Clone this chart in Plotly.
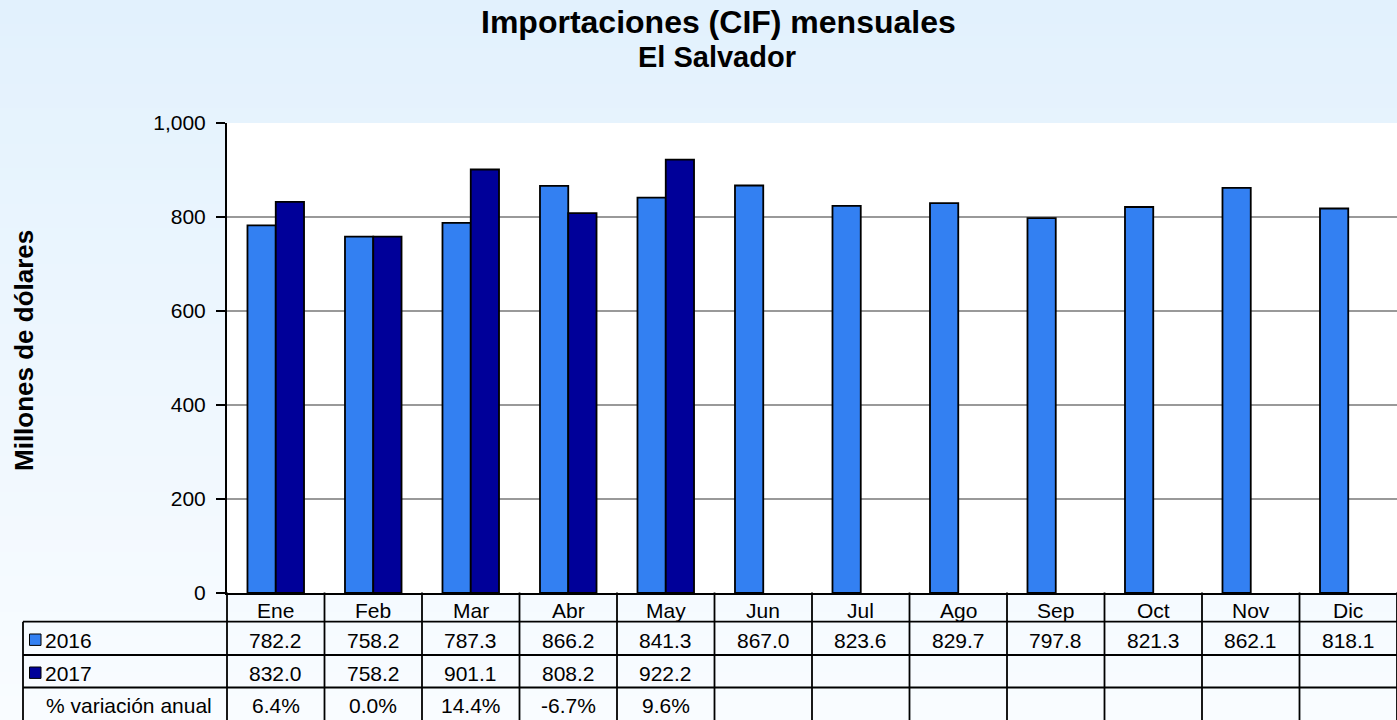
import plotly.graph_objects as go

# Data
months = ['Ene', 'Feb', 'Mar', 'Abr', 'May', 'Jun', 'Jul', 'Ago', 'Sep', 'Oct', 'Nov', 'Dic']
imp_2016 = [782.2, 758.2, 787.3, 866.2, 841.3, 867.0, 823.6, 829.7, 797.8, 821.3, 862.1, 818.1]
imp_2017 = [832.0, 758.2, 901.1, 808.2, 922.2]
var_anual = [6.4, 0.0, 14.4, -6.7, 9.6]
series_names = ['2016', '2017']
y_ticks = [0, 200, 400, 600, 800, 1000]

col_2016 = '#3380F2'
col_2017 = '#000099'
FONT = 'Liberation Sans, Arial, sans-serif'

# Page geometry (pixels)
W, H = 1397, 720
L, R, T, B = 227, 1397, 123, 593


def px_x(p):
    return (p - L) / (R - L)


def px_y(p):
    return (B - p) / (B - T)


fig = go.Figure()
fig.add_trace(go.Bar(x=months, y=imp_2016, name=series_names[0], marker_color=col_2016,
                     marker_line=dict(color='black', width=1.8)))
fig.add_trace(go.Bar(x=months[:len(imp_2017)], y=imp_2017, name=series_names[1], marker_color=col_2017,
                     marker_line=dict(color='black', width=1.8)))

shapes = []
annotations = []

# light blue gradient background
n_bands = 60
top_c, bot_c = (226, 241, 253), (249, 252, 255)
for i in range(n_bands):
    f = i / (n_bands - 1)
    c = tuple(round(top_c[k] + (bot_c[k] - top_c[k]) * f) for k in range(3))
    y0 = i * H / n_bands
    y1 = (i + 1) * H / n_bands + 1
    shapes.append(dict(type='rect', xref='paper', yref='paper', layer='below',
                       x0=px_x(0), x1=px_x(W + 2), y0=px_y(y1), y1=px_y(y0),
                       line=dict(width=0), fillcolor='rgb(%d,%d,%d)' % c))
# white plot area on top of the gradient
shapes.append(dict(type='rect', xref='paper', yref='paper', layer='below',
                   x0=0, x1=1, y0=0, y1=1, line=dict(width=0), fillcolor='white'))

# data table under the chart
rows_px = [592.5, 621.7, 655.0, 687.5, 740]
tbl_left = 23
line_k = dict(color='black', width=1.8)
n = len(months)
for i in range(n + 1):
    shapes.append(dict(type='line', xref='paper', yref='paper', x0=i / n, x1=i / n,
                       y0=px_y(rows_px[0]), y1=px_y(rows_px[-1]), line=line_k))
shapes.append(dict(type='line', xref='paper', yref='paper', x0=px_x(tbl_left), x1=px_x(tbl_left),
                   y0=px_y(rows_px[1]), y1=px_y(rows_px[-1]), line=line_k))
for rp in rows_px[1:-1]:
    shapes.append(dict(type='line', xref='paper', yref='paper', x0=px_x(tbl_left), x1=1,
                       y0=px_y(rp), y1=px_y(rp), line=line_k))

txt_font = dict(family=FONT, size=21, color='black')
row_mid = [610.5, 640.5, 673.5, 705.5]
row_vals = [
    months,
    ['%.1f' % v for v in imp_2016],
    ['%.1f' % v for v in imp_2017],
    ['%.1f%%' % v for v in var_anual],
]
for r, vals in enumerate(row_vals):
    for i, t in enumerate(vals):
        annotations.append(dict(text=t, xref='paper', yref='paper', x=(i + 0.5) / n, y=px_y(row_mid[r]),
                                xanchor='center', yanchor='middle', showarrow=False, font=txt_font))

# legend keys inside the table
for r, (name, col) in enumerate(zip(series_names, [col_2016, col_2017])):
    cy = row_mid[r + 1] - 0.8
    shapes.append(dict(type='rect', xref='paper', yref='paper', x0=px_x(29.5), x1=px_x(41),
                       y0=px_y(cy + 5.7), y1=px_y(cy - 5.7), fillcolor=col,
                       line=dict(color='black', width=1)))
    annotations.append(dict(text=name, xref='paper', yref='paper', x=px_x(43), y=px_y(row_mid[r + 1]),
                            xanchor='left', yanchor='middle', showarrow=False, font=txt_font))
annotations.append(dict(text='% variación anual', xref='paper', yref='paper', x=px_x(128.5),
                        y=px_y(row_mid[3]), xanchor='center', yanchor='middle', showarrow=False,
                        font=txt_font))

# titles
annotations.append(dict(text='<b>Importaciones (CIF) mensuales</b>', xref='paper', yref='paper',
                        x=px_x(718), y=px_y(21.5), xanchor='center', yanchor='middle', showarrow=False,
                        font=dict(family=FONT, size=32, color='black')))
annotations.append(dict(text='<b>El Salvador</b>', xref='paper', yref='paper',
                        x=px_x(717), y=px_y(57), xanchor='center', yanchor='middle', showarrow=False,
                        font=dict(family=FONT, size=29, color='black')))
annotations.append(dict(text='<b>Millones de dólares</b>', xref='paper', yref='paper',
                        x=px_x(24), y=px_y(351), xanchor='center', yanchor='middle', showarrow=False,
                        textangle=-90, font=dict(family=FONT, size=26, color='black')))

fig.update_layout(
    width=W, height=H,
    margin=dict(l=L, r=W - R, t=T, b=H - B, pad=0),
    paper_bgcolor='#eef6fe',
    plot_bgcolor='white',
    barmode='group', bargap=0.42, bargroupgap=0,
    showlegend=False,
    shapes=shapes,
    annotations=annotations,
    font=dict(family=FONT, size=21, color='black'),
)
fig.update_xaxes(type='category', showticklabels=False, showgrid=False, ticks='',
                 showline=True, linecolor='black', linewidth=2, zeroline=False)
fig.update_yaxes(range=[0, 1000], tickvals=y_ticks, tickformat=',', showgrid=True,
                 gridcolor='#999999', gridwidth=1.5, zeroline=False,
                 showline=True, linecolor='black', linewidth=2,
                 ticks='outside', ticklen=9, tickwidth=2, tickcolor='black',
                 ticklabelstandoff=6,
                 tickfont=dict(family=FONT, size=21, color='black'))

# remove the page's default body margin so the figure fills the window
fig.write_html("out.html", config={'displayModeBar': False},
               post_script="document.body.style.margin='0';document.body.style.overflow='hidden';")
